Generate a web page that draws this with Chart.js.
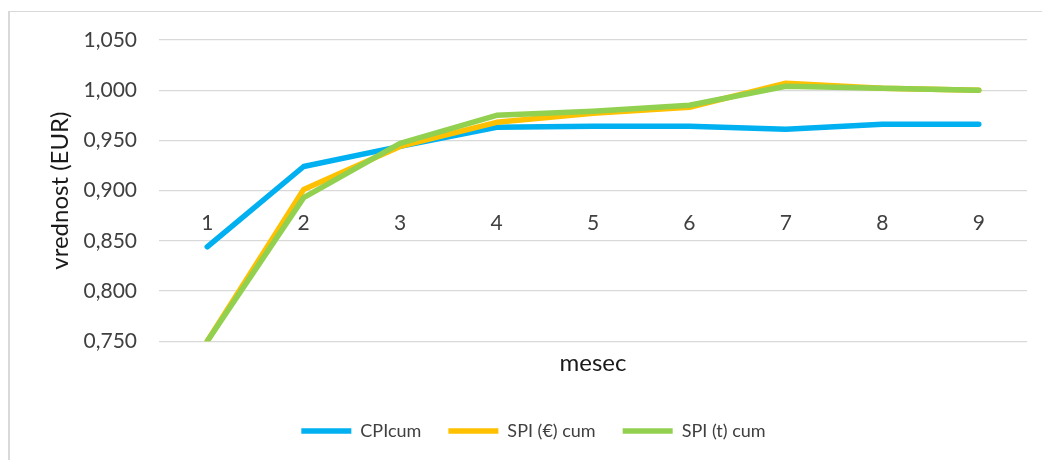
<!DOCTYPE html>
<html>
<head>
<meta charset="utf-8">
<script src="https://cdn.jsdelivr.net/npm/chart.js@4/dist/chart.umd.min.js"></script>
<style>
  html, body { margin: 0; padding: 0; background: #ffffff; }
  #wrap { position: relative; width: 1042px; height: 460px; overflow: hidden; }
  #frame { position: absolute; left: 8px; top: 11px; width: 1200px; height: 600px;
           border-left: 2px solid #D9D9D9; border-top: 1px solid #D9D9D9; }
  canvas { position: absolute; left: 0; top: 0; }
</style>
</head>
<body>
<div id="wrap">
  <div id="frame"></div>
  <canvas id="c" width="1042" height="460"></canvas>
</div>
<script>
// Months of the project
const months = ['1', '2', '3', '4', '5', '6', '7', '8', '9'];

// Cumulative performance indices per month
const cpiCum = [0.844, 0.924, 0.944, 0.963, 0.964, 0.964, 0.961, 0.966, 0.966];
const spiEurCum = [0.750, 0.901, 0.944, 0.968, 0.977, 0.983, 1.007, 1.002, 1.000];
const spiTimeCum = [0.750, 0.893, 0.947, 0.975, 0.979, 0.985, 1.004, 1.002, 1.000];

// Series names
const seriesNames = ['CPIcum', 'SPI (€) cum', 'SPI (t) cum'];

// Value axis range and labelling
const yMin = 0.75;
const yMax = 1.05;
const yStep = 0.05;
const yLabel = 'vrednost (EUR)';
const xLabel = 'mesec';
const formatTick = v => v.toFixed(3).replace('.', ',');

const FONT = 'Lato, "Open Sans", "DejaVu Sans", sans-serif';

function lineSet(label, data, color, order) {
  return {
    label, data, order,
    borderColor: color,
    backgroundColor: color,
    borderWidth: 5.5,
    borderCapStyle: 'round',
    borderJoinStyle: 'round',
    pointRadius: 0,
    pointHoverRadius: 0,
    tension: 0,
    fill: false
  };
}

new Chart(document.getElementById('c'), {
  type: 'line',
  data: {
    labels: months,
    datasets: [
      lineSet(seriesNames[0], cpiCum, '#00B0F0', 3),
      lineSet(seriesNames[1], spiEurCum, '#FFC000', 2),
      lineSet(seriesNames[2], spiTimeCum, '#92D050', 1)
    ]
  },
  options: {
    responsive: false,
    animation: false,
    devicePixelRatio: 1,
    layout: { padding: { left: 40, right: 15, top: 40, bottom: 10 } },
    plugins: {
      tooltip: { enabled: false },
      title: { display: false },
      legend: {
        position: 'bottom',
        labels: {
          usePointStyle: true,
          pointStyle: 'line',
          pointStyleWidth: 50,
          boxHeight: 6,
          padding: 27,
          color: '#404040',
          font: { family: FONT, size: 18 },
          sort: (a, b) => a.datasetIndex - b.datasetIndex
        }
      }
    },
    scales: {
      x: {
        type: 'category',
        position: { y: 0.9 },
        offset: true,
        grid: { display: false, drawTicks: false },
        border: { display: false },
        ticks: {
          padding: 20,
          color: '#404040',
          font: { family: FONT, size: 21 },
          maxRotation: 0
        }
      },
      x2: {
        type: 'category',
        labels: months,
        position: 'bottom',
        offset: true,
        grid: { display: false, drawTicks: false },
        border: { display: false },
        ticks: { display: false },
        title: {
          display: true,
          text: xLabel,
          color: '#1a1a1a',
          font: { family: FONT, size: 24 },
          padding: { top: 8, bottom: 17 }
        }
      },
      y: {
        min: yMin,
        max: yMax,
        position: 'left',
        grid: { color: '#D9D9D9', lineWidth: 1.3, drawTicks: false },
        border: { display: false },
        ticks: {
          stepSize: yStep,
          padding: 22,
          color: '#404040',
          font: { family: FONT, size: 21 },
          callback: v => formatTick(v)
        },
        title: {
          display: true,
          text: yLabel,
          color: '#1a1a1a',
          font: { family: FONT, size: 24 },
          padding: { top: 6, bottom: 0 }
        },
        afterFit: s => { s.width = 119; }
      }
    }
  }
});
</script>
</body>
</html>
